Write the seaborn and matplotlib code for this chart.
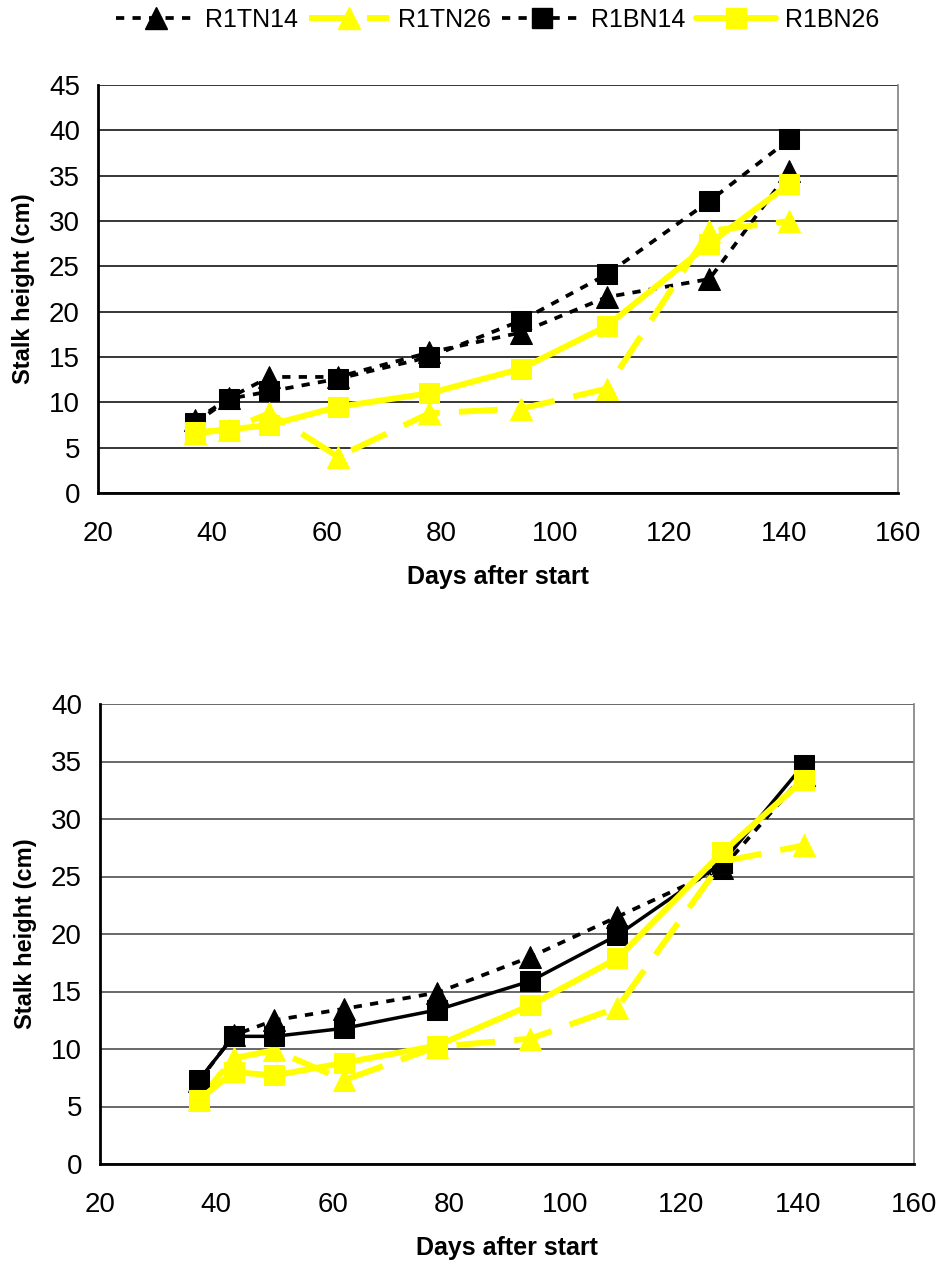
import numpy as np
import pandas as pd
import matplotlib
matplotlib.use("Agg")
import matplotlib.pyplot as plt
import seaborn as sns
from matplotlib.lines import Line2D

sns.set_theme(style="white")
plt.rcParams['font.family'] = ['Liberation Sans', 'DejaVu Sans']
plt.rcParams['text.color'] = 'black'
plt.rcParams['axes.labelcolor'] = 'black'
plt.rcParams['xtick.color'] = 'black'
plt.rcParams['ytick.color'] = 'black'

days = [37, 43, 50, 62, 78, 94, 109, 127, 141]

# Top chart
top_R1TN14 = [8.0, 10.5, 12.8, 12.8, 15.5, 17.7, 21.6, 23.6, 35.5]
top_R1TN26 = [6.6, 7.0, 8.8, 4.0, 8.8, 9.3, 11.5, 28.9, 30.0]
top_R1BN14 = [7.7, 10.4, 11.2, 12.6, 15.0, 19.0, 24.1, 32.2, 39.0]
top_R1BN26 = [6.7, 7.0, 7.5, 9.5, 11.0, 13.7, 18.4, 27.5, 34.1]

# Bottom chart
bot_R1TN14 = [7.2, 11.2, 12.5, 13.5, 14.9, 18.0, 21.5, 25.7, 33.8]
bot_R1TN26 = [5.6, 9.2, 9.9, 7.3, 10.2, 10.9, 13.6, 26.3, 27.7]
bot_R1BN14 = [7.3, 11.1, 11.1, 11.8, 13.4, 15.9, 19.9, 26.2, 34.7]
bot_R1BN26 = [5.6, 8.0, 7.7, 8.8, 10.3, 13.8, 17.9, 27.1, 33.4]

series_names = ["R1TN14", "R1TN26", "R1BN14", "R1BN26"]
x_ticks = [20, 40, 60, 80, 100, 120, 140, 160]

W, H = 939, 1266
fig = plt.figure(figsize=(W / 100, H / 100), dpi=100)

YEL = "#FFFF00"
styles_top = {
    "R1TN14": dict(color="black", marker="^", ms=16, lw=2.7, dashes=(2.2, 2.2)),
    "R1TN26": dict(color=YEL, marker="^", ms=16, lw=4.3, dashes=(6.5, 3.2)),
    "R1BN14": dict(color="black", marker="s", ms=14, lw=2.7, dashes=(2.2, 2.2)),
    "R1BN26": dict(color=YEL, marker="s", ms=14, lw=4.3, dashes=None),
}
styles_bot = dict(styles_top)
styles_bot["R1BN14"] = dict(color="black", marker="s", ms=14, lw=2.5, dashes=None)


def draw(ax, data, styles, ymax, gridcolor):
    for name in series_names:
        st = styles[name]
        df = pd.DataFrame({"day": days, "h": data[name]})
        n_before = len(ax.lines)
        sns.lineplot(data=df, x="day", y="h", ax=ax, color=st["color"],
                     marker=st["marker"], markersize=st["ms"],
                     markeredgecolor=st["color"], linewidth=st["lw"],
                     legend=False, zorder=3)
        ln = ax.lines[n_before]
        ln.set_clip_on(False)
        ln.set_dash_capstyle("butt")
        ln.set_solid_capstyle("butt")
        if st["dashes"] is not None:
            ln.set_dashes(st["dashes"])
    ax.set_xlim(20, 160)
    ax.set_ylim(0, ymax)
    ax.set_xticks(x_ticks)
    ax.set_yticks(np.arange(0, ymax + 1, 5))
    ax.yaxis.grid(True, color=gridcolor, linewidth=1.1)
    ax.set_axisbelow(True)
    ax.spines["top"].set_visible(False)
    ax.spines["right"].set_color("#808080")
    ax.spines["right"].set_linewidth(1.2)
    ax.spines["left"].set_color("black")
    ax.spines["left"].set_linewidth(2)
    ax.spines["bottom"].set_color("black")
    ax.spines["bottom"].set_linewidth(2)
    ax.tick_params(axis="both", which="major", labelsize=20, direction="out",
                   length=7, width=1.2, pad=6, labelcolor="black", color="black")
    ax.tick_params(axis="x", color="#808080", pad=13)
    ax.set_xlabel("Days after start", fontsize=18, fontweight="bold", labelpad=13)
    ax.set_ylabel("Stalk height (cm)", fontsize=17, fontweight="bold", labelpad=10)


ax1 = fig.add_axes([98 / W, 1 - 493 / H, (898 - 98) / W, (493 - 85) / H])
draw(ax1, {"R1TN14": top_R1TN14, "R1TN26": top_R1TN26,
           "R1BN14": top_R1BN14, "R1BN26": top_R1BN26}, styles_top, 45, "black")

ax2 = fig.add_axes([100 / W, 1 - 1164 / H, (914 - 100) / W, (1164 - 704) / H])
draw(ax2, {"R1TN14": bot_R1TN14, "R1TN26": bot_R1TN26,
           "R1BN14": bot_R1BN14, "R1BN26": bot_R1BN26}, styles_bot, 40, "#404040")

handles = []
for name in series_names:
    st = styles_top[name]
    h = Line2D([], [], color=st["color"], marker=st["marker"], markersize=st["ms"],
               markeredgecolor=st["color"], linewidth=st["lw"])
    if st["dashes"] is not None:
        h.set_dashes(st["dashes"])
    handles.append(h)

fig.legend(handles, series_names, loc="center", bbox_to_anchor=(0.53, 1 - 20 / H),
           ncol=4, frameon=False, fontsize=18, handlelength=3.2,
           handletextpad=0.35, columnspacing=0.45)

fig.savefig("out.png", dpi=100)
